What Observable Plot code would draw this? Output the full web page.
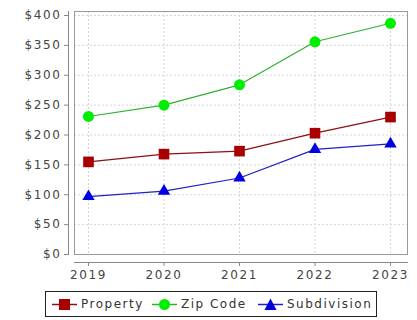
<!DOCTYPE html>
<html><head><meta charset="utf-8">
<script src="https://cdn.jsdelivr.net/npm/d3@7"></script>
<script src="https://cdn.jsdelivr.net/npm/@observablehq/plot@0.6"></script>
<style>
body{margin:0;background:#fff;font-family:"DejaVu Sans",sans-serif;}
#legend{position:absolute;left:45px;top:291px;width:332px;height:26px;border:1px solid #222;box-sizing:border-box;font-size:12px;letter-spacing:1.5px;color:#333;}
#legend .it{position:absolute;top:0;height:24px;display:flex;align-items:center;}
#legend svg{margin-right:4px;}
</style></head>
<body>
<div id="chart"></div>
<div id="legend"></div>
<script>
const years = [2019, 2020, 2021, 2022, 2023];
const property = [155, 168, 173, 203, 230];
const zipCode = [231, 250, 284, 356, 387];
const subdivision = [97, 106, 128, 176, 185];
const yTicks = [0, 50, 100, 150, 200, 250, 300, 350, 400];
const seriesNames = ["Property", "Zip Code", "Subdivision"];
const lineColors = ["#8b1010", "#30b030", "#2020c8"];
const markColors = ["#a80000", "#00ee00", "#0000e0"];
const symbols = ["square", "circle", "triangle"];

const data = [];
[property, zipCode, subdivision].forEach((arr, i) =>
  arr.forEach((v, j) => data.push({series: seriesNames[i], year: years[j], value: v})));

const W = 417, H = 285;
const chart = Plot.plot({
  width: W, height: H,
  marginLeft: 74, marginRight: 10, marginTop: 11, marginBottom: 31,
  style: {fontFamily: "DejaVu Sans, sans-serif", fontSize: "12px", color: "#444", background: "#fff"},
  x: {domain: [2019, 2023], range: [88, 390], ticks: years, tickFormat: d => String(d)},
  y: {domain: [0, 400], range: [254, 15], ticks: yTicks},
  color: {domain: seriesNames, range: lineColors},
  symbol: {domain: seriesNames, range: symbols},
  marks: [
    Plot.gridX(years, {stroke: "#d4d4d4", strokeOpacity: 1, strokeDasharray: "2,2"}),
    Plot.gridY(yTicks, {stroke: "#d4d4d4", strokeOpacity: 1, strokeDasharray: "2,2"}),
    Plot.frame({stroke: "#999"}),
    Plot.frame({anchor: "left", dx: -6, stroke: "#888"}),
    Plot.frame({anchor: "bottom", dy: 8, stroke: "#888"}),
    Plot.axisY(yTicks, {tickSize: 4, dx: -6, tickPadding: 3, tickFormat: d => "$" + d, fill: "#444", stroke: "#888", label: null}),
    Plot.axisX(years, {tickSize: 4, dy: 8, tickPadding: 4, tickFormat: d => String(d), fill: "#444", stroke: "#888", label: null}),
    Plot.line(data, {x: "year", y: "value", z: "series", stroke: "series", strokeWidth: 1.2}),
    Plot.dot(data.filter(d => d.series === "Property"), {x: "year", y: "value", symbol: () => "Property", r: 6, fill: markColors[0], stroke: "none"}),
    Plot.dot(data.filter(d => d.series === "Zip Code"), {x: "year", y: "value", symbol: () => "Zip Code", r: 5.5, fill: markColors[1], stroke: "none"}),
    Plot.dot(data.filter(d => d.series === "Subdivision"), {x: "year", y: "value", symbol: () => "Subdivision", r: 4.6, fill: markColors[2], stroke: "none"})
  ]
});
document.getElementById("chart").appendChild(chart);
chart.querySelectorAll("text").forEach(t => t.style.letterSpacing = "1.6px");

const leg = document.getElementById("legend");
const shapes = [
  '<rect x="7" y="1" width="11" height="11"/>',
  '<circle cx="12.5" cy="6.5" r="5.5"/>',
  '<path d="M12.5,0.5 L18.5,12 L6.5,12 Z"/>'
];
const itemLeft = [6, 106, 212];
seriesNames.forEach((n, i) => {
  const it = document.createElement("div");
  it.className = "it";
  it.style.left = itemLeft[i] + "px";
  it.innerHTML = `<svg width="25" height="13"><line x1="0" x2="25" y1="6.5" y2="6.5" stroke="${lineColors[i]}" stroke-width="1.5"/><g fill="${markColors[i]}">${shapes[i]}</g></svg><span>${n}</span>`;
  leg.appendChild(it);
});
</script>
</body></html>
